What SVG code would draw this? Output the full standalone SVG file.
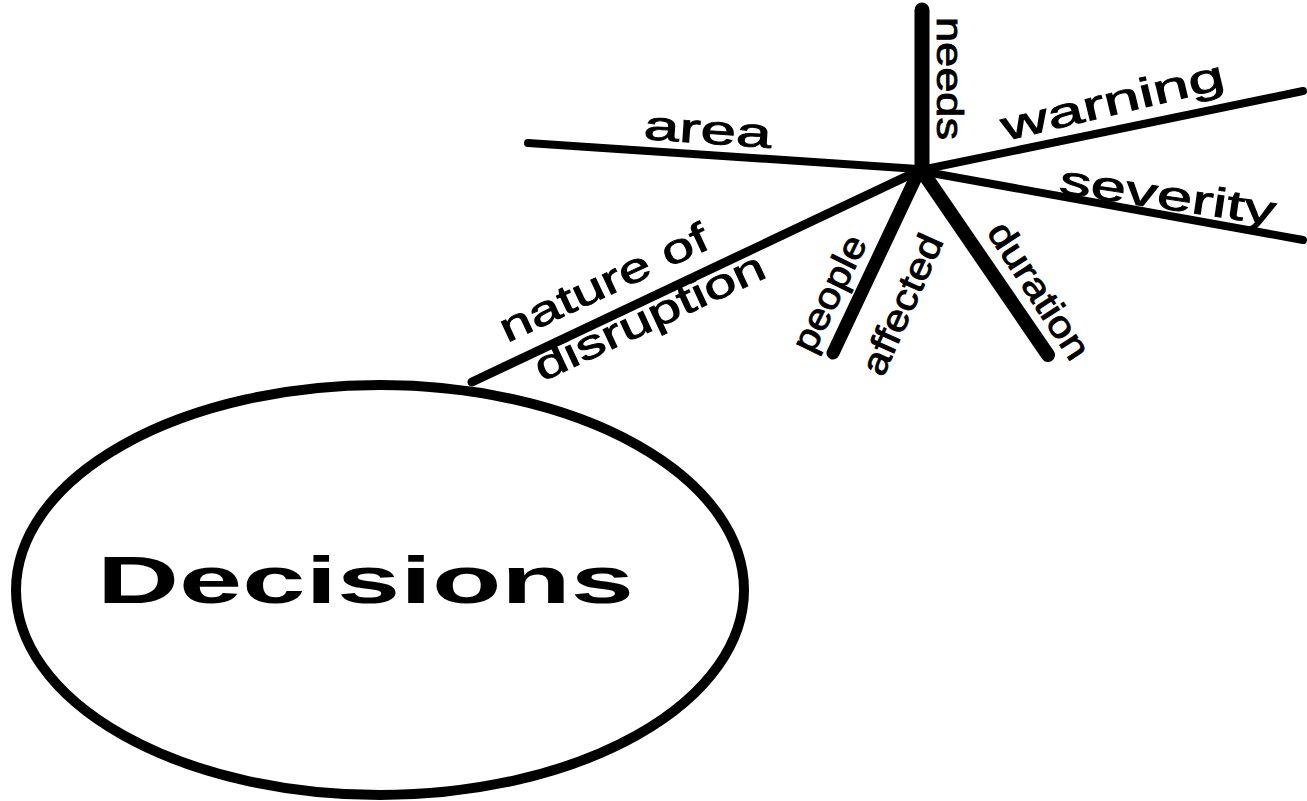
<svg xmlns="http://www.w3.org/2000/svg" width="1307" height="801" viewBox="0 0 1307 801">
<style>
.ln{stroke:#000;stroke-linecap:round;fill:none}
.lb{font-family:"Liberation Sans",Arial,sans-serif;font-size:41px;fill:#000;stroke:#000;stroke-width:0.9px}
.rot{font-family:"Liberation Sans",Arial,sans-serif;font-size:37px;fill:#000;stroke:#000;stroke-width:0.9px}
</style>
<rect width="1307" height="801" fill="#fff"/>
<g id="connectors">
<line class="ln" x1="922" y1="10" x2="922" y2="172" stroke-width="15"/>
<line class="ln" x1="528" y1="143" x2="918" y2="169" stroke-width="8"/>
<line class="ln" x1="926" y1="169" x2="1303" y2="91" stroke-width="8"/>
<line class="ln" x1="926" y1="172" x2="1303" y2="240" stroke-width="8"/>
<line class="ln" x1="472" y1="382" x2="918" y2="171" stroke-width="9"/>
<line class="ln" x1="833" y1="353" x2="918" y2="173" stroke-width="13"/>
<line class="ln" x1="924" y1="174" x2="1048" y2="355" stroke-width="14"/>
</g>
<g id="decisions">
<ellipse cx="380" cy="590" rx="364" ry="205" fill="none" stroke="#000" stroke-width="10"/>
<text x="97" y="603" font-family="Liberation Sans,Arial,sans-serif" font-weight="bold" font-size="66" textLength="537" lengthAdjust="spacingAndGlyphs">Decisions</text>
</g>
<g id="label-needs"><text class="rot" transform="translate(937,17) rotate(90)" textLength="123" lengthAdjust="spacingAndGlyphs">needs</text></g>
<g id="label-area"><text class="lb" transform="translate(643,139) rotate(4)" textLength="128" lengthAdjust="spacingAndGlyphs">area</text></g>
<g id="label-warning"><text class="lb" font-size="44" transform="translate(1005,141) rotate(-13.5)" textLength="228" lengthAdjust="spacingAndGlyphs">warning</text></g>
<g id="label-severity"><text class="lb" transform="translate(1058,193) rotate(8.5)" textLength="218" lengthAdjust="spacingAndGlyphs">severity</text></g>
<g id="label-nature"><text class="lb" transform="translate(507,343) rotate(-25)" textLength="226" lengthAdjust="spacingAndGlyphs">nature of</text>
<text class="lb" transform="translate(542,382) rotate(-25)" textLength="250" lengthAdjust="spacingAndGlyphs">disruption</text></g>
<g id="label-people"><text class="rot" transform="translate(813,355) rotate(-64)" textLength="125" lengthAdjust="spacingAndGlyphs">people</text></g>
<g id="label-affected"><text class="rot" transform="translate(883,378) rotate(-66)" textLength="150" lengthAdjust="spacingAndGlyphs">affected</text></g>
<g id="label-duration"><text class="rot" transform="translate(986,232) rotate(57)" textLength="156" lengthAdjust="spacingAndGlyphs">duration</text></g>
</svg>
